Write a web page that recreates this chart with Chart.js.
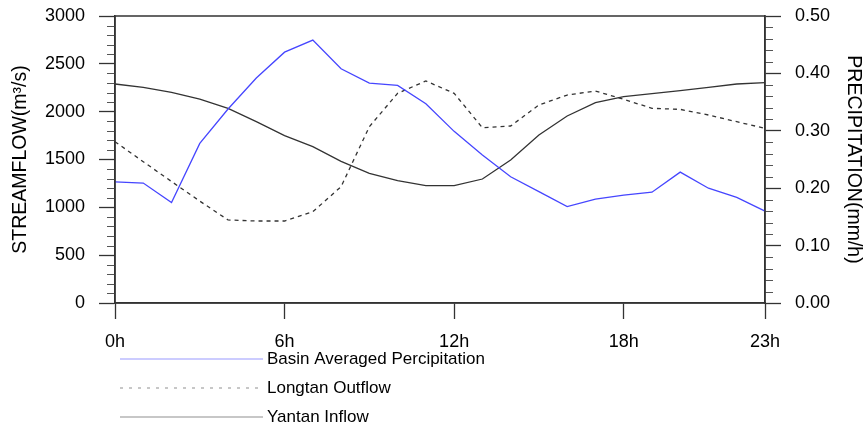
<!DOCTYPE html>
<html>
<head>
<meta charset="utf-8">
<script src="https://cdn.jsdelivr.net/npm/chart.js@4"></script>
<style>
  body { margin: 0; background: #fff; }
</style>
</head>
<body>
<canvas id="flow" width="865" height="434"></canvas>
<script>
var hours = ['0h', '1h', '2h', '3h', '4h', '5h', '6h', '7h', '8h', '9h', '10h', '11h',
             '12h', '13h', '14h', '15h', '16h', '17h', '18h', '19h', '20h', '21h', '22h', '23h'];

// basin averaged precipitation, mm/h (right axis)
var precip = [0.211, 0.209, 0.175, 0.278, 0.338, 0.392, 0.437, 0.458, 0.408, 0.383, 0.379, 0.347,
              0.299, 0.258, 0.220, 0.194, 0.168, 0.181, 0.188, 0.193, 0.228, 0.200, 0.184, 0.160];

// streamflow, m3/s (left axis)
var longtanOut = [1686, 1477, 1270, 1065, 868, 857, 857, 954, 1216, 1843, 2192, 2321,
                  2192, 1832, 1850, 2070, 2174, 2216, 2129, 2035, 2024, 1965, 1895, 1826];
var yantanIn = [2289, 2254, 2202, 2132, 2035, 1895, 1750, 1634, 1480, 1356, 1278, 1226,
                1226, 1296, 1495, 1756, 1955, 2094, 2157, 2188, 2219, 2254, 2289, 2303];

var hourTicks = [0, 6, 12, 18, 23];
var flowTicks = [0, 500, 1000, 1500, 2000, 2500, 3000];
var precipTicks = [0, 0.1, 0.2, 0.3, 0.4, 0.5];

var FONT = '"Liberation Sans", Arial, Helvetica, sans-serif';
var AXIS = '#333';

// small ticks between the labelled ones, on the outside of both y axes
var minorTicks = {
  id: 'minorTicks',
  afterDraw: function(chart) {
    var ctx = chart.ctx;
    ctx.save();
    ctx.strokeStyle = '#555';
    ctx.lineWidth = 1;
    ['y', 'y1'].forEach(function(id) {
      var s = chart.scales[id];
      var step = s.options.ticks.stepSize / 5;
      var n = Math.round((s.max - s.min) / step);
      var edge = id === 'y' ? s.right : s.left;
      var dir = id === 'y' ? -1 : 1;
      for (var k = 1; k < n; k++) {
        if (k % 5 === 0) continue;
        var py = Math.round(s.getPixelForValue(s.min + k * step)) + 0.5;
        ctx.beginPath();
        ctx.moveTo(edge, py);
        ctx.lineTo(edge + dir * 8, py);
        ctx.stroke();
      }
    });
    ctx.restore();
  }
};

// closed box round the plot
var frame = {
  id: 'frame',
  afterDraw: function(chart) {
    var a = chart.chartArea;
    var ctx = chart.ctx;
    ctx.save();
    ctx.strokeStyle = AXIS;
    ctx.lineWidth = 1.5;
    ctx.strokeRect(a.left, a.top, a.right - a.left, a.bottom - a.top);
    ctx.restore();
  }
};

// legend under the x axis: a line sample with its label to the right
var lineLegend = {
  id: 'lineLegend',
  afterDraw: function(chart) {
    var ctx = chart.ctx;
    ctx.save();
    chart.data.datasets.forEach(function(ds, i) {
      var y = 359 + i * 29;
      ctx.strokeStyle = ds.borderColor;
      ctx.globalAlpha = 0.55;
      ctx.lineWidth = 1;
      ctx.setLineDash(ds.borderDash && ds.borderDash.length ? [3, 6] : []);
      ctx.beginPath();
      ctx.moveTo(120, y);
      ctx.lineTo(263, y);
      ctx.stroke();
      ctx.globalAlpha = 1;
      ctx.setLineDash([]);
      ctx.fillStyle = '#000';
      ctx.font = '17px ' + FONT;
      ctx.textBaseline = 'middle';
      ctx.fillText(ds.label, 267, y);
    });
    ctx.restore();
  }
};

function fixWidth(w) {
  return function(s) {
    s.width = w;
    s.paddingTop = 0;
    s.paddingBottom = 0;
  };
}

new Chart(document.getElementById('flow'), {
  type: 'line',
  data: {
    labels: hours,
    datasets: [
      {
        label: 'Basin Averaged Percipitation',
        data: precip,
        yAxisID: 'y1',
        borderColor: 'rgb(70,70,255)',
        borderWidth: 1.3
      },
      {
        label: 'Longtan Outflow',
        data: longtanOut,
        yAxisID: 'y',
        borderColor: '#333',
        borderWidth: 1.3,
        borderDash: [4, 4]
      },
      {
        label: 'Yantan Inflow',
        data: yantanIn,
        yAxisID: 'y',
        borderColor: '#333',
        borderWidth: 1.3
      }
    ]
  },
  options: {
    responsive: false,
    animation: false,
    devicePixelRatio: 1,
    layout: { padding: { top: 16, left: 0, right: 0, bottom: 0 } },
    elements: { point: { radius: 0 }, line: { tension: 0 } },
    plugins: {
      legend: { display: false },
      tooltip: { enabled: false }
    },
    scales: {
      x: {
        type: 'category',
        offset: false,
        border: { color: AXIS, width: 1.5 },
        grid: { drawOnChartArea: false, tickLength: 16, tickColor: AXIS, tickWidth: 1.3 },
        ticks: {
          autoSkip: false,
          maxRotation: 0,
          padding: 12,
          color: '#000',
          font: { family: FONT, size: 18 },
          callback: function(val, i) {
            return hourTicks.indexOf(i) >= 0 ? hours[i] : null;
          }
        },
        afterFit: function(s) {
          s.height = 131;
          s.paddingLeft = 0;
          s.paddingRight = 0;
        }
      },
      y: {
        position: 'left',
        min: 0,
        max: 3000,
        border: { color: AXIS, width: 1.5 },
        grid: { drawOnChartArea: false, tickLength: 16, tickColor: AXIS, tickWidth: 1.3 },
        ticks: {
          stepSize: 500,
          padding: 14,
          color: '#000',
          font: { family: FONT, size: 18 },
          callback: function(v) { return flowTicks.indexOf(v) >= 0 ? String(v) : null; }
        },
        title: {
          display: true,
          text: 'STREAMFLOW(m³/s)',
          color: '#000',
          font: { family: FONT, size: 19.5 },
          padding: { top: 9, bottom: 0 }
        },
        afterFit: fixWidth(115)
      },
      y1: {
        position: 'right',
        min: 0,
        max: 0.5,
        border: { color: AXIS, width: 1.5 },
        grid: { drawOnChartArea: false, tickLength: 16, tickColor: AXIS, tickWidth: 1.3 },
        ticks: {
          stepSize: 0.1,
          padding: 14,
          color: '#000',
          font: { family: FONT, size: 18 },
          callback: function(v) {
            var near = precipTicks.some(function(t) { return Math.abs(t - v) < 1e-9; });
            return near ? v.toFixed(2) : null;
          }
        },
        title: {
          display: true,
          text: 'PRECIPITATION(mm/h)',
          color: '#000',
          font: { family: FONT, size: 19.5 },
          padding: { top: 0, bottom: 0 }
        },
        afterFit: fixWidth(100)
      }
    }
  },
  plugins: [minorTicks, frame, lineLegend]
});
</script>
</body>
</html>
